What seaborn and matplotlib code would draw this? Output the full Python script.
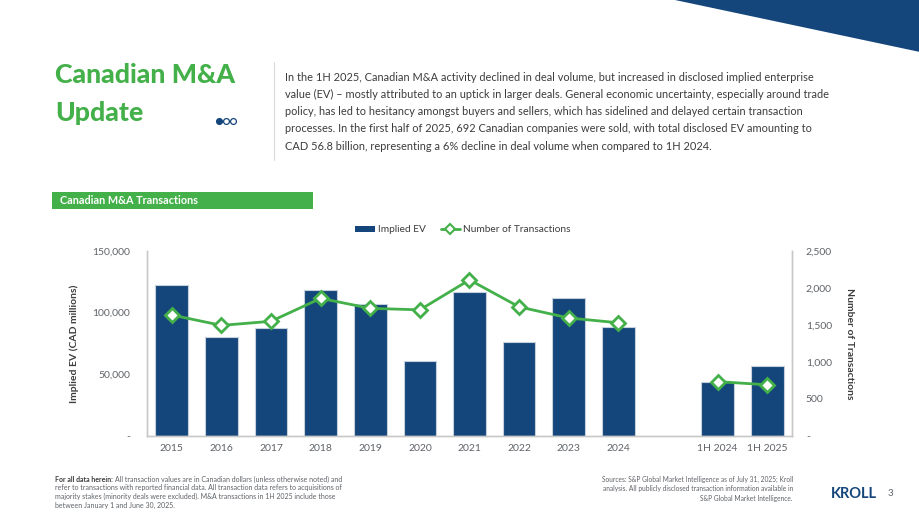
import matplotlib.pyplot as plt
import matplotlib.patches as mpatches
from matplotlib.lines import Line2D
from matplotlib.ticker import FuncFormatter
import numpy as np
import pandas as pd
import seaborn as sns

# chart data
periods = ["2015", "2016", "2017", "2018", "2019", "2020", "2021",
           "2022", "2023", "2024", "1H 2024", "1H 2025"]
implied_ev = [122400, 80300, 87600, 118400, 107000, 60800, 116800,
              76200, 111900, 88400, 43800, 56800]
num_transactions = [1635, 1495, 1550, 1860, 1725, 1705, 2110,
                    1745, 1595, 1530, 735, 692]
# slot order, with an empty slot between full years and half years
slot_order = periods[:10] + [" "] + periods[10:]

left_ticks = [0, 50000, 100000, 150000]
right_ticks = [0, 500, 1000, 1500, 2000, 2500]

NAVY = "#15467b"
GREEN = "#43b049"
GREY = "#5f6368"
DARK = "#3c3c3c"

sns.set_theme(style="white")
plt.rcParams["font.family"] = ["Lato", "DejaVu Sans"]

fig = plt.figure(figsize=(9.2, 5.18), dpi=100)

# ---- header decoration ----
fig.patches.append(mpatches.Polygon([[675 / 920, 1], [1, 1], [1, 1 - 52 / 518]],
                                     closed=True, transform=fig.transFigure,
                                     facecolor=NAVY, edgecolor="none"))
fig.add_artist(Line2D([274 / 920, 274 / 920], [1 - 62 / 518, 1 - 160 / 518],
                      color="#d9d9d9", lw=0.8))

fig.text(55 / 920, 1 - 75 / 518, "Canadian M&A", color=GREEN, fontsize=19.2,
         fontweight="black", va="center", ha="left")
fig.text(55 / 920, 1 - 113 / 518, "Update", color=GREEN, fontsize=19.2,
         fontweight="black", va="center", ha="left")
for i, xd in enumerate([219, 226, 233]):
    fig.add_artist(Line2D([xd / 920], [1 - 121 / 518], marker="o", ms=4.2,
                          mfc=NAVY if i == 0 else "white", mec=NAVY, mew=0.9,
                          ls="none", transform=fig.transFigure))

para = ("In the 1H 2025, Canadian M&A activity declined in deal volume, but increased in disclosed implied enterprise\n"
        "value (EV) \u2013 mostly attributed to an uptick in larger deals. General economic uncertainty, especially around trade\n"
        "policy, has led to hesitancy amongst buyers and sellers, which has sidelined and delayed certain transaction\n"
        "processes. In the first half of 2025, 692 Canadian companies were sold, with total disclosed EV amounting to\n"
        "CAD 56.8 billion, representing a 6% decline in deal volume when compared to 1H 2024.")
fig.text(285 / 920, 1 - 72 / 518, para, color=DARK, fontsize=7.9, va="top",
         ha="left", linespacing=1.68)

# section header box
fig.patches.append(mpatches.Rectangle((52 / 920, 1 - 209 / 518), 261 / 920, 17 / 518,
                                      transform=fig.transFigure, facecolor=GREEN,
                                      edgecolor="none"))
fig.text(60 / 920, 1 - 200.5 / 518, "Canadian M&A Transactions", color="white",
         fontsize=7.8, fontweight="bold", va="center", ha="left")

# ---- chart ----
ax = fig.add_axes([147 / 920, 1 - 436 / 518, 645 / 920, 185 / 518])
df = pd.DataFrame({"period": periods, "ev": implied_ev, "count": num_transactions})

sns.barplot(data=df, x="period", y="ev", order=slot_order, color=NAVY,
            width=0.66, edgecolor="#c5d0dc", linewidth=0.8, saturation=1, ax=ax)
ax.set_ylim(0, 150000)
ax.set_yticks(left_ticks)
fmt = FuncFormatter(lambda v, p: "-" if v == 0 else f"{v:,.0f}")
ax.yaxis.set_major_formatter(fmt)
ax.set_xlabel("")
ax.set_ylabel("Implied EV (CAD millions)", color=DARK, fontsize=7.5,
              fontweight="bold", labelpad=10)
ax.tick_params(axis="y", length=0, pad=12, labelsize=7.5, labelcolor=GREY)
ax.tick_params(axis="x", length=0, pad=6, labelsize=7.5, labelcolor=GREY)

ax2 = ax.twinx()
pos = {p: i for i, p in enumerate(slot_order)}
xs = [pos[p] for p in periods]
# full years and half years drawn as separate segments
ax2.plot(xs[:10], num_transactions[:10], color=GREEN, lw=2, marker="D",
         ms=7, mfc="white", mec=GREEN, mew=2)
ax2.plot(xs[10:], num_transactions[10:], color=GREEN, lw=2, marker="D",
         ms=7, mfc="white", mec=GREEN, mew=2)
ax2.set_ylim(0, 2500)
ax2.set_yticks(right_ticks)
ax2.yaxis.set_major_formatter(fmt)
ax2.set_ylabel("Number of Transactions", color=DARK, fontsize=7.5,
               fontweight="bold", rotation=-90, labelpad=16)
ax2.tick_params(axis="y", length=0, pad=10, labelsize=7.5, labelcolor=GREY)
ax.set_xlim(-0.5, len(slot_order) - 0.5)

for a in (ax, ax2):
    a.spines["top"].set_visible(False)
    for side in ("left", "right", "bottom"):
        a.spines[side].set_color("#c8c8c8")
        a.spines[side].set_linewidth(1)

handles = [mpatches.Patch(facecolor=NAVY, edgecolor="none", label="Implied EV"),
           Line2D([0], [0], color=GREEN, lw=2, marker="D", ms=5, mfc="white",
                  mec=GREEN, mew=1.5, label="Number of Transactions")]
fig.legend(handles=handles, loc="center", bbox_to_anchor=(463 / 920, 1 - 230 / 518),
           ncol=2, frameon=False, fontsize=7.3, handlelength=1.9, handleheight=0.6,
           columnspacing=1.5, handletextpad=0.3, labelcolor=DARK)

# ---- footer ----
foot_y = 1 - 476 / 518
bold = fig.text(55 / 920, foot_y, "For all data herein:", color=DARK, fontsize=5,
                fontweight="bold", va="top", ha="left")
fig.canvas.draw()
bb = bold.get_window_extent().transformed(fig.transFigure.inverted())
fig.text(bb.x1 + 2 / 920, foot_y,
         "All transaction values are in Canadian dollars (unless otherwise noted) and",
         color=GREY, fontsize=5, va="top", ha="left")
fig.text(55 / 920, foot_y - 8 / 518,
         "refer to transactions with reported financial data. All transaction data refers to acquisitions of\n"
         "majority stakes (minority deals were excluded). M&A transactions in 1H 2025 include those\n"
         "between January 1 and June 30, 2025.",
         color=GREY, fontsize=5, va="top", ha="left", linespacing=1.35)
fig.text(793 / 920, foot_y,
         "Sources: S&P Global Market Intelligence as of July 31, 2025; Kroll\n"
         "analysis. All publicly disclosed transaction information available in\n"
         "S&P Global Market Intelligence.",
         color=GREY, fontsize=4.8, va="top", ha="right", multialignment="right",
         linespacing=1.4)
fig.text(854 / 920, 1 - 494 / 518, "KROLL", color=NAVY, fontsize=10.5,
         fontweight="bold", va="center", ha="center")
fig.text(890 / 920, 1 - 494 / 518, "3", color=GREY, fontsize=7, va="center",
         ha="center")

fig.savefig("out.png", dpi=100)
